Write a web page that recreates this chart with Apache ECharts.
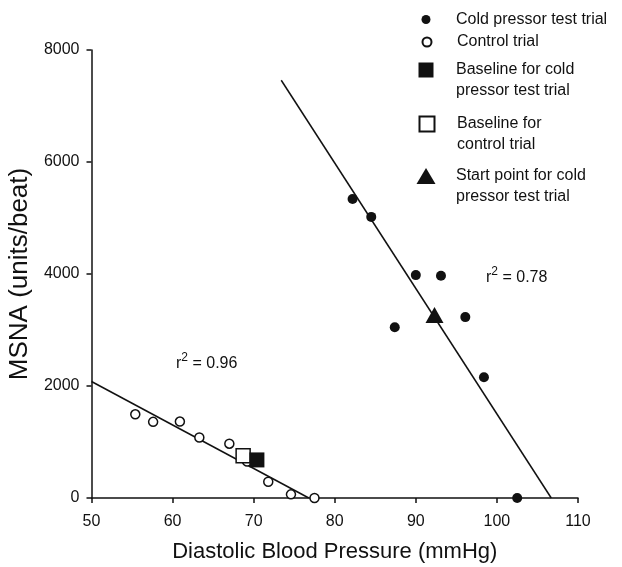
<!DOCTYPE html>
<html>
<head>
<meta charset="utf-8">
<title>MSNA vs diastolic pressure</title>
<script src="https://cdn.jsdelivr.net/npm/echarts@6/dist/echarts.min.js"></script>
<style>
  html, body { margin: 0; padding: 0; background: #fff; }
  #chart { width: 622px; height: 567px; }
</style>
</head>
<body>
<div id="chart"></div>
<script>
// values
var coldX = [82.2, 84.5, 90.0, 93.1, 87.4, 96.1, 98.4, 102.5];
var coldY = [5340, 5020, 3980, 3970, 3050, 3230, 2155, 0];
var controlX = [55.4, 57.6, 60.9, 63.3, 67.0, 69.2, 71.8, 74.6, 77.5];
var controlY = [1495, 1360, 1365, 1080, 970, 650, 290, 65, 0];
var baselineCold = [70.4, 680];
var baselineControl = [68.7, 755];
var startCold = [92.3, 3270];
// regression lines (end points)
var controlFitX = [50, 76.8];
var controlFitY = [2080, 0];
var coldFitX = [73.4, 106.7];
var coldFitY = [7460, 0];
var xTicks = [50, 60, 70, 80, 90, 100, 110];
var yTicks = [0, 2000, 4000, 6000, 8000];

var FONT = 'Liberation Sans, Arial, sans-serif';

function pairs(xs, ys) {
  var out = [];
  for (var i = 0; i < xs.length; i++) out.push([xs[i], ys[i]]);
  return out;
}

var names = ['Cold pressor test trial', 'Control trial', 'Baseline for cold pressor test trial',
             'Baseline for control trial', 'Start point for cold pressor test trial'];
var legendText = {};
legendText[names[0]] = 'Cold pressor test trial';
legendText[names[1]] = 'Control trial';
// leading blank line keeps the icon level with the first line
legendText[names[2]] = ' \nBaseline for cold\npressor test trial';
legendText[names[3]] = ' \nBaseline for\ncontrol trial';
legendText[names[4]] = ' \nStart point for cold\npressor test trial';

// one legend per entry
var LH = 21, iconX = 426, textX = 456;
function oneLegend(name, w, h, cy, twoLines) {
  var pl = textX - (iconX + w / 2 + 5);
  var boxH = twoLines ? 3 * LH : LH;
  return {
    data: [name],
    orient: 'vertical',
    left: iconX - w / 2,
    top: cy - boxH / 2,
    padding: 0,
    itemWidth: w,
    itemHeight: h,
    selectedMode: false,
    formatter: function (n) { return legendText[n]; },
    textStyle: {
      fontFamily: FONT, fontSize: 16, color: '#111', lineHeight: LH,
      padding: [0, 0, 0, pl]
    }
  };
}

var myChart = echarts.init(document.getElementById('chart'));
var option = {
  backgroundColor: '#fff',
  animation: false,
  legend: [
    oneLegend(names[0], 9, 9, 19.5, false),
    oneLegend(names[1], 9, 9, 42, false),
    oneLegend(names[2], 15, 15, 70, true),
    oneLegend(names[3], 15, 15, 124, true),
    oneLegend(names[4], 19, 16, 176, true)
  ],
  grid: { left: 91.5, right: 44, top: 50, bottom: 69, containLabel: false, outerBoundsMode: 'none' },
  xAxis: {
    type: 'value', min: xTicks[0], max: xTicks[xTicks.length - 1], interval: 10,
    name: 'Diastolic Blood Pressure (mmHg)', nameLocation: 'middle', nameGap: 43,
    nameTextStyle: { fontFamily: FONT, fontSize: 22, color: '#111' },
    axisLine: { lineStyle: { color: '#111', width: 1.5 } },
    axisTick: { inside: false, length: 5, lineStyle: { color: '#111', width: 1.5 } },
    axisLabel: { fontFamily: FONT, fontSize: 16, color: '#111', margin: 16 },
    splitLine: { show: false }
  },
  yAxis: {
    type: 'value', min: yTicks[0], max: yTicks[yTicks.length - 1], interval: 2000,
    name: 'MSNA (units/beat)', nameLocation: 'middle', nameGap: 53, nameRotate: 90,
    nameTextStyle: { fontFamily: FONT, fontSize: 26, color: '#111' },
    axisLine: { show: true, lineStyle: { color: '#111', width: 1.5 } },
    axisTick: { show: true, inside: false, length: 5, lineStyle: { color: '#111', width: 1.5 } },
    axisLabel: {
      fontFamily: FONT, fontSize: 16, color: '#111', margin: 12,
      formatter: function (v) { return String(v); }
    },
    splitLine: { show: false }
  },
  graphic: [
    {
      type: 'text', left: 176, top: 352, silent: true,
      style: {
        text: '{a|r}{b|2}{a| = 0.96}',
        rich: {
          a: { fontFamily: FONT, fontSize: 16, fill: '#111', verticalAlign: 'bottom' },
          b: { fontFamily: FONT, fontSize: 12, fill: '#111', verticalAlign: 'bottom', padding: [0, 0, 8, 0] }
        }
      }
    },
    {
      type: 'text', left: 486, top: 266, silent: true,
      style: {
        text: '{a|r}{b|2}{a| = 0.78}',
        rich: {
          a: { fontFamily: FONT, fontSize: 16, fill: '#111', verticalAlign: 'bottom' },
          b: { fontFamily: FONT, fontSize: 12, fill: '#111', verticalAlign: 'bottom', padding: [0, 0, 8, 0] }
        }
      }
    }
  ],
  series: [
    {
      name: 'controlFit', type: 'line', data: pairs(controlFitX, controlFitY),
      showSymbol: false, symbol: 'none', z: 1, silent: true,
      lineStyle: { color: '#111', width: 1.5 }
    },
    {
      name: 'coldFit', type: 'line', data: pairs(coldFitX, coldFitY),
      showSymbol: false, symbol: 'none', z: 1, silent: true,
      lineStyle: { color: '#111', width: 1.5 }
    },
    {
      name: names[0], type: 'scatter', data: pairs(coldX, coldY), z: 3,
      symbol: 'circle', symbolSize: 10,
      itemStyle: { color: '#111', opacity: 1 }
    },
    {
      name: names[1], type: 'scatter', data: pairs(controlX, controlY), z: 3,
      symbol: 'circle', symbolSize: 9,
      itemStyle: { color: '#fff', borderColor: '#111', borderWidth: 1.5, opacity: 1 }
    },
    {
      name: names[3], type: 'scatter', data: [baselineControl], z: 4,
      symbol: 'rect', symbolSize: 14,
      itemStyle: { color: '#fff', borderColor: '#111', borderWidth: 1.5, opacity: 1 }
    },
    {
      name: names[2], type: 'scatter', data: [baselineCold], z: 5,
      symbol: 'rect', symbolSize: 15,
      itemStyle: { color: '#111', opacity: 1 }
    },
    {
      name: names[4], type: 'scatter', data: [startCold], z: 5,
      symbol: 'triangle', symbolSize: [18, 16],
      itemStyle: { color: '#111', opacity: 1 }
    }
  ]
};
myChart.setOption(option);
</script>
</body>
</html>
